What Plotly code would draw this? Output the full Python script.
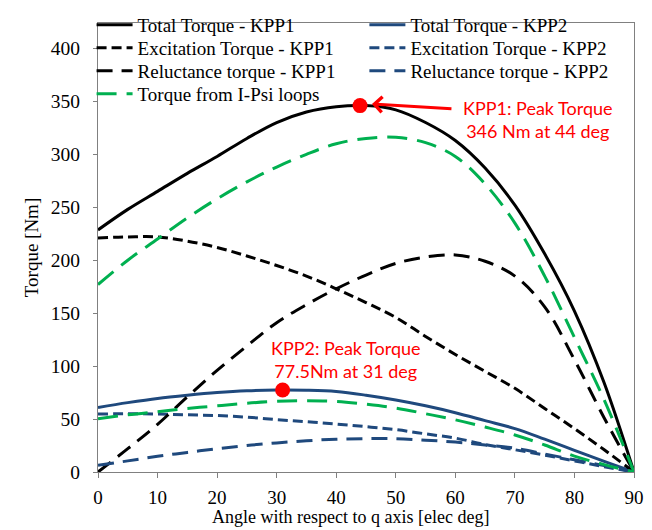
import plotly.graph_objects as go

angle = [0, 5, 10, 15, 20, 25, 30, 35, 40, 45, 50, 55, 60, 65, 70, 75, 80, 85, 90]

kpp1_total = [228.6, 248, 265, 282, 298, 315, 330, 340, 345, 346, 342, 330, 313, 287, 252, 206, 152, 84, 0]
kpp1_exc = [221, 222, 222, 218, 212, 204, 195, 185, 173, 160, 146, 128, 111, 95, 79, 60, 41, 21, 0]
kpp1_rel = [0, 22, 45, 71, 96, 119, 141, 158, 173, 186, 197, 203, 205, 199, 185, 156, 106, 51, 0]
ipsi_kpp1 = [177, 200, 220, 240, 258, 274, 288, 300, 310, 315, 316, 311, 298, 272, 235, 185, 127, 68, 0]

kpp2_total = [61, 65.5, 69.5, 72.5, 75, 76.7, 77.4, 77.2, 76, 72.5, 68, 62.5, 56, 48.5, 41, 31, 20.5, 10, 0]
kpp2_exc = [54.7, 55, 54.7, 54, 53.3, 51.8, 49.5, 47.5, 45.3, 42.8, 40, 36, 32, 26, 21, 16, 10.5, 5, 0]
kpp2_rel = [6.3, 10.5, 14.8, 18.5, 22, 25, 27.5, 29.5, 31, 31.5, 31.4, 30, 28.3, 25.5, 22.5, 17, 11.5, 6, 0]
ipsi_kpp2 = [50.3, 54, 57, 60, 62.5, 65, 66.7, 67.3, 66.7, 64, 60.4, 55, 49.3, 42.5, 35, 25.5, 15, 7, 0]

peak_angle = [44, 31]
peak_torque = [346, 77.5]

x_ticks = [0, 10, 20, 30, 40, 50, 60, 70, 80, 90]
y_ticks = [0, 50, 100, 150, 200, 250, 300, 350, 400]

BLACK = "#000000"
BLUE = "#1F497D"
GREEN = "#00B050"
RED = "#FF0000"
SHORT = "10px,5px"
LONG = "16px,9px"
GDASH = "20px,10px"

W, H = 652, 530
L, R, T, B = 90, 26, 15, 66
PW, PH = W - L - R, H - T - B

fig = go.Figure()

# (column, row) of each legend entry; each entry gets its own legend box
legend_slots = {}


def add(y, name, color, dash, legend=None, col=0, row=0, show=True):
    fig.add_trace(go.Scatter(
        x=angle, y=y, name=name, mode="lines", showlegend=show,
        legend=legend if legend else "legend",
        line=dict(color=color, width=3, dash=dash, shape="spline", smoothing=1),
        hoverinfo="skip"))
    if legend:
        legend_slots[legend] = (col, row)


add(kpp1_total, "Total Torque - KPP1", BLACK, "solid", "legend", 0, 0)
add(kpp2_total, "Total Torque - KPP2", BLUE, "solid", "legend2", 1, 0)
add(kpp1_exc, "Excitation Torque - KPP1", BLACK, SHORT, "legend3", 0, 1)
add(kpp2_exc, "Excitation Torque - KPP2", BLUE, SHORT, "legend4", 1, 1)
add(kpp1_rel, "Reluctance torque - KPP1", BLACK, LONG, "legend5", 0, 2)
add(kpp2_rel, "Reluctance torque - KPP2", BLUE, LONG, "legend6", 1, 2)
add(ipsi_kpp1, "Torque from I-Psi loops", GREEN, GDASH, "legend7", 0, 3)
add(ipsi_kpp2, "Torque from I-Psi loops", GREEN, GDASH, show=False)

fig.add_trace(go.Scatter(x=peak_angle, y=peak_torque, mode="markers", showlegend=False,
                         marker=dict(color=RED, size=15), hoverinfo="skip"))

serif = "Liberation Serif"
sans = "Lato"
legend_font = dict(family=serif, size=19, color="black")

col_x = [-0.012, 0.497]
row_y = [17, 40, 63, 86]
legends = {}
for lg, (c, r) in legend_slots.items():
    legends[lg] = dict(orientation="v", x=col_x[c], xanchor="left",
                       y=1 - row_y[r] / H, yref="container", yanchor="middle",
                       itemwidth=36, font=legend_font, bgcolor="rgba(0,0,0,0)",
                       borderwidth=0)

fig.update_layout(
    width=W, height=H,
    margin=dict(l=L, r=R, t=T, b=B, autoexpand=False),
    paper_bgcolor="white", plot_bgcolor="white",
    font=dict(family=serif, size=18, color="black"),
    showlegend=True,
    xaxis=dict(range=[0, 90], tickvals=x_ticks, ticks="outside", ticklen=5,
               tickcolor="#808080", showline=True, linecolor="#808080", linewidth=1,
               mirror=True, showgrid=False, zeroline=False, ticklabelstandoff=3,
               tickfont=dict(family=serif, size=19)),
    yaxis=dict(range=[0, 424], tickvals=y_ticks, ticks="outside", ticklen=4,
               tickcolor="#808080", showline=True, linecolor="#808080", linewidth=1,
               mirror=True, showgrid=False, zeroline=False, ticklabelstandoff=9,
               tickfont=dict(family=serif, size=19.5),
               title=dict(text="Torque [Nm]", font=dict(family=serif, size=19), standoff=7)),
    **legends,
)

fig.add_annotation(x=0.472, y=-(509 - (H - B)) / PH, xref="paper", yref="paper", showarrow=False,
                   text="Angle with respect to q axis [elec deg]",
                   font=dict(family=serif, size=18), xanchor="center", yanchor="middle")

fig.add_annotation(x=73.9, y=333, xref="x", yref="y", showarrow=False,
                   text="KPP1: Peak Torque<br>346 Nm at 44 deg",
                   font=dict(family=sans, size=18, color=RED), align="center")
fig.add_annotation(x=46.0, y=347.5, ax=59.6, ay=343, xref="x", yref="y", axref="x", ayref="y",
                   text="", showarrow=True, arrowhead=4, arrowsize=1, arrowwidth=3,
                   arrowcolor=RED)
fig.add_annotation(x=41.6, y=106, xref="x", yref="y", showarrow=False,
                   text="KPP2: Peak Torque<br>77.5Nm at 31 deg",
                   font=dict(family=sans, size=18, color=RED), align="center")

fig.write_html("out.html")
